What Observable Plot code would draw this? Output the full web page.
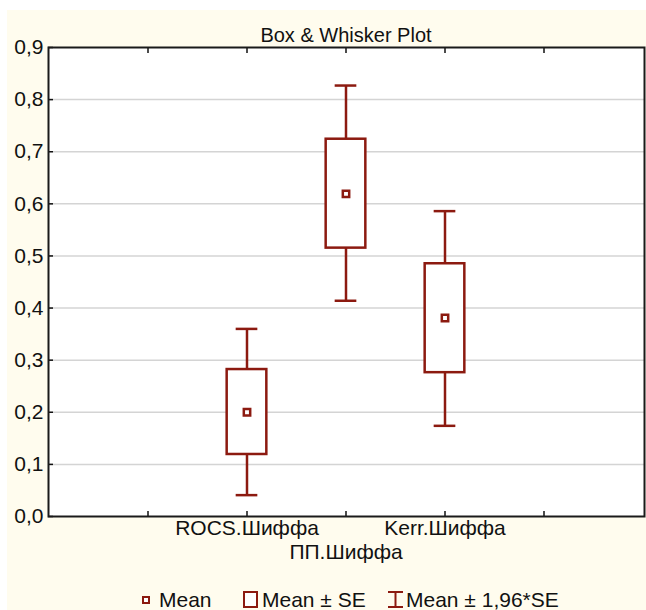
<!DOCTYPE html>
<html><head><meta charset="utf-8">
<script src="https://cdn.jsdelivr.net/npm/d3@7"></script>
<script src="https://cdn.jsdelivr.net/npm/@observablehq/plot@0.6"></script>
<style>
body{margin:0;background:#fff;font-family:"Liberation Sans",Arial,sans-serif;}
#wrap{position:relative;width:646px;height:610px;overflow:hidden;}
#cream{position:absolute;left:7px;top:10px;right:0;bottom:0;background:#fffcee;}
#title{position:absolute;left:48px;width:596px;top:24px;text-align:center;font-size:20px;line-height:22px;color:#111;}
#chart{position:absolute;left:0;top:0;}
.lg{position:absolute;top:588px;font-size:21px;line-height:24px;color:#111;white-space:nowrap;}
#icons{position:absolute;left:0;top:0;}
</style></head>
<body><div id="wrap"><div id="cream"></div><div id="title">Box &amp; Whisker Plot</div><div id="chart"></div>
<svg id="icons" width="646" height="610"></svg>
<div class="lg" style="left:159px">Mean</div>
<div class="lg" style="left:262px">Mean ± SE</div>
<div class="lg" style="left:406px">Mean ± 1,96*SE</div>
</div>
<script>
const categories = ["ROCS.Шиффа", "ПП.Шиффа", "Kerr.Шиффа"];
const means = [0.200, 0.619, 0.381];
const boxLow = [0.119, 0.515, 0.276];
const boxHigh = [0.282, 0.724, 0.485];
const whiskerLow = [0.041, 0.414, 0.174];
const whiskerHigh = [0.360, 0.827, 0.586];
const yTicks = [0, 0.1, 0.2, 0.3, 0.4, 0.5, 0.6, 0.7, 0.8, 0.9];
const gridValues = [0.1, 0.2, 0.3, 0.4, 0.5, 0.6, 0.7, 0.8];
const slots = ["\u00a00", "\u00a01", ...categories, "\u00a05", "\u00a06"];
const innerSlots = slots.slice(1, 6);

const rows = categories.map((c, i) => ({cat: c, mean: means[i], lo: boxLow[i], hi: boxHigh[i], wlo: whiskerLow[i], whi: whiskerHigh[i], row: i % 2}));

const W = 646, H = 560, ML = 48, MR = 2, MT = 47, MB = 44;
const bw = (W - ML - MR) / (slots.length - 1);
const color = "#8c1a10";

const chart = Plot.plot({
  width: W, height: H, marginLeft: ML, marginRight: MR, marginTop: MT, marginBottom: MB,
  style: {background: "transparent", fontFamily: "Liberation Sans, Arial, sans-serif", fontSize: "21px", color: "#111", overflow: "visible"},
  x: {type: "band", domain: slots, range: [ML - bw / 2, W - MR + bw / 2], padding: 0, axis: null},
  y: {domain: [0, 0.9], axis: null},
  marks: [
    Plot.frame({fill: "white"}),
    Plot.ruleY(gridValues, {stroke: "#d4d4d4", strokeWidth: 1.5}),
    Plot.ruleX(rows, {x: "cat", y1: "wlo", y2: "whi", stroke: color, strokeWidth: 2.5}),
    Plot.tickY(rows, {x: "cat", y: "wlo", stroke: color, strokeWidth: 2.5, insetLeft: (bw - 22) / 2, insetRight: (bw - 22) / 2}),
    Plot.tickY(rows, {x: "cat", y: "whi", stroke: color, strokeWidth: 2.5, insetLeft: (bw - 22) / 2, insetRight: (bw - 22) / 2}),
    Plot.barY(rows, {x: "cat", y1: "lo", y2: "hi", fill: "white", stroke: color, strokeWidth: 2.5, insetLeft: (bw - 40) / 2, insetRight: (bw - 40) / 2}),
    Plot.dot(rows, {x: "cat", y: "mean", symbol: "square", r: 3.6, stroke: color, strokeWidth: 2.5, fill: "white"}),
    Plot.axisY(yTicks, {anchor: "left", tickSize: -5, tickPadding: 10, strokeWidth: 1.5, tickFormat: d => d.toFixed(1).replace(".", ","), label: null}),
    Plot.axisX(innerSlots, {anchor: "bottom", tickSize: -5, strokeWidth: 1.5, tickFormat: () => "", label: null}),
    Plot.axisX(innerSlots, {anchor: "top", tickSize: -5, strokeWidth: 1.5, tickFormat: () => "", label: null}),
    Plot.text(rows.filter(d => d.row === 0), {x: "cat", text: "cat", frameAnchor: "bottom", dy: 18, fill: "#111"}),
    Plot.text(rows.filter(d => d.row === 1), {x: "cat", text: "cat", frameAnchor: "bottom", dy: 42, fill: "#111"}),
    Plot.frame({stroke: "#1a1a1a", strokeWidth: 2})
  ]
});
document.getElementById("chart").appendChild(chart);

// legend swatches
const ic = d3.select("#icons");
ic.append("rect").attr("x", 143).attr("y", 597).attr("width", 6).attr("height", 6).attr("fill", "white").attr("stroke", color).attr("stroke-width", 2);
ic.append("rect").attr("x", 244).attr("y", 592).attr("width", 13).attr("height", 15).attr("fill", "white").attr("stroke", color).attr("stroke-width", 2);
ic.append("line").attr("x1", 395.5).attr("x2", 395.5).attr("y1", 592).attr("y2", 607).attr("stroke", color).attr("stroke-width", 2);
ic.append("line").attr("x1", 388).attr("x2", 403).attr("y1", 592).attr("y2", 592).attr("stroke", color).attr("stroke-width", 2);
ic.append("line").attr("x1", 388).attr("x2", 403).attr("y1", 607).attr("y2", 607).attr("stroke", color).attr("stroke-width", 2);
</script>
</body></html>
